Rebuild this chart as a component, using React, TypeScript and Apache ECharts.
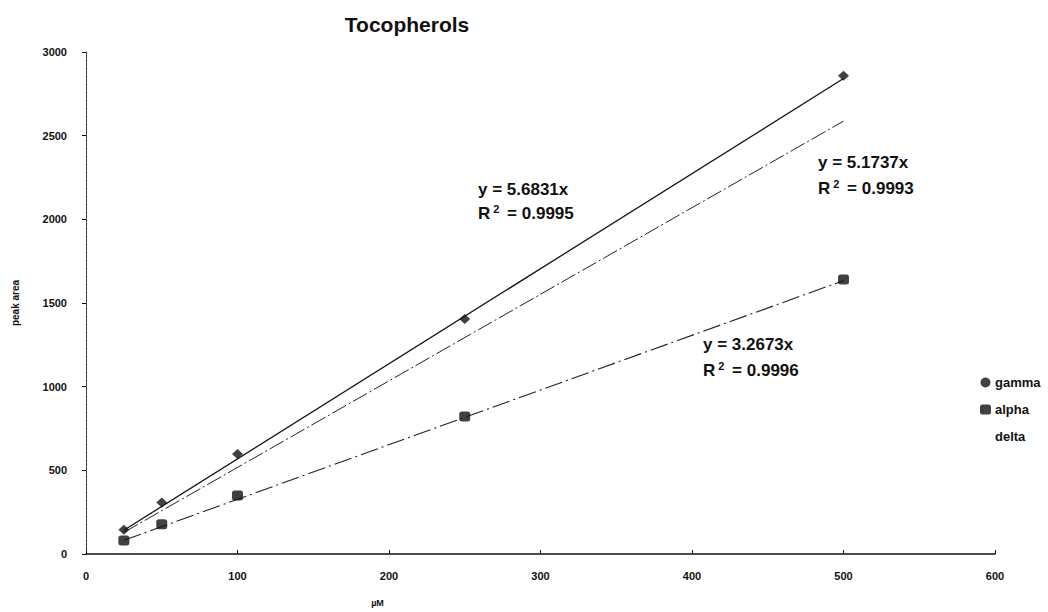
import React, { useEffect, useRef } from "react";
import * as echarts from "echarts";

const concentrations = [25, 50, 100, 250, 500];
const gammaValues = [145, 308, 598, 1405, 2858];
const alphaValues = [80, 178, 350, 822, 1640];
const fitRange = [25, 500];
const gammaSlope = 5.6831;
const deltaSlope = 5.1737;
const alphaSlope = 3.2673;
const xTicks = [0, 100, 200, 300, 400, 500, 600];
const yTicks = [0, 500, 1000, 1500, 2000, 2500, 3000];

const font = "Arial, 'Liberation Sans', Helvetica, sans-serif";

export default function App() {
  const ref = useRef<HTMLDivElement>(null);
  useEffect(() => {
    if (!ref.current) return;
    const chart = echarts.init(ref.current, null, { renderer: "svg" });
    const fit = (s: number) => fitRange.map((x) => [x, s * x]);
    const eqStyle = {
      fontFamily: font,
      fontWeight: "bold" as const,
      fontSize: 17,
      fill: "#111",
    };
    const rText = (left: number, top: number, value: string) => ({
      type: "text",
      left,
      top,
      style: {
        ...eqStyle,
        text: "R{sup|2} = " + value,
        rich: {
          sup: { fontFamily: font, fontWeight: "bold", fontSize: 11, fill: "#111", padding: [0, 3, 9, 3] },
        },
      },
    });
    chart.setOption({
      animation: false,
      backgroundColor: "#fff",
      title: {
        text: "Tocopherols",
        left: 402,
        top: 9,
        textAlign: "center",
        textStyle: { fontFamily: font, fontWeight: "bold", fontSize: 21, color: "#111" },
      },
      grid: { left: 86, right: 53, top: 52, bottom: 54, containLabel: false },
      xAxis: {
        type: "value",
        min: 0,
        max: 600,
        interval: 100,
        name: "µM",
        nameLocation: "middle",
        nameGap: 44,
        nameTextStyle: {
          fontFamily: font,
          fontWeight: "bold",
          fontSize: 9,
          color: "#111",
          padding: [0, 326, 0, 0],
        },
        axisLine: { lineStyle: { color: "#111", width: 1.5 } },
        axisTick: { inside: true, length: 4, lineStyle: { color: "#111" } },
        axisLabel: {
          margin: 16,
          fontFamily: font,
          fontWeight: "bold",
          fontSize: 11,
          color: "#111",
          customValues: xTicks,
          formatter: (v: number) => String(v),
        },
        splitLine: { show: false },
      },
      yAxis: {
        type: "value",
        min: 0,
        max: 3000,
        interval: 500,
        name: "peak area",
        nameLocation: "middle",
        nameGap: 66,
        nameRotate: 90,
        nameTextStyle: { fontFamily: font, fontWeight: "bold", fontSize: 10, color: "#111" },
        axisLine: { show: true, lineStyle: { color: "#333", width: 1, type: [3, 1] } },
        axisTick: { show: true, inside: false, length: 4, lineStyle: { color: "#111" } },
        axisLabel: {
          margin: 19,
          fontFamily: font,
          fontWeight: "bold",
          fontSize: 11,
          color: "#111",
          customValues: yTicks,
          formatter: (v: number) => String(v),
        },
        splitLine: { show: false },
      },
      legend: {
        orient: "vertical",
        left: 975,
        top: 371,
        itemWidth: 11,
        itemHeight: 10,
        itemGap: 14,
        textStyle: { fontFamily: font, fontWeight: "bold", fontSize: 13, color: "#111", padding: [0, 0, 0, -1] },
        data: [
          { name: "gamma", icon: "circle", itemStyle: { color: "#111" } },
          { name: "alpha", icon: "roundRect", itemStyle: { color: "#111" } },
          { name: "delta", icon: "rect", itemStyle: { color: "#fff", opacity: 0 } },
        ],
      },
      series: [
        {
          name: "gamma fit",
          type: "line",
          data: fit(gammaSlope),
          symbol: "none",
          lineStyle: { color: "#111", width: 1.3 },
          z: 1,
        },
        {
          name: "delta fit",
          type: "line",
          data: fit(deltaSlope),
          symbol: "none",
          lineStyle: { color: "#222", width: 1, type: [16, 3, 2, 3] },
          z: 1,
        },
        {
          name: "alpha fit",
          type: "line",
          data: fit(alphaSlope),
          symbol: "none",
          lineStyle: { color: "#222", width: 1.1, type: [18, 4, 2, 4] },
          z: 1,
        },
        {
          name: "gamma",
          type: "scatter",
          data: concentrations.map((x, i) => [x, gammaValues[i]]),
          symbol: "diamond",
          symbolSize: [11, 10],
          itemStyle: { color: "#111" },
          z: 3,
        },
        {
          name: "alpha",
          type: "scatter",
          data: concentrations.map((x, i) => [x, alphaValues[i]]),
          symbol: "roundRect",
          symbolSize: [11, 10],
          itemStyle: { color: "#111" },
          z: 3,
        },
        {
          name: "delta",
          type: "scatter",
          data: [],
          itemStyle: { color: "#fff" },
        },
      ],
      graphic: [
        { type: "text", left: 478, top: 181, style: { ...eqStyle, text: "y = 5.6831x" } },
        rText(478, 203, "0.9995"),
        { type: "text", left: 818, top: 154, style: { ...eqStyle, text: "y = 5.1737x" } },
        rText(818, 178, "0.9993"),
        { type: "text", left: 703, top: 336, style: { ...eqStyle, text: "y = 3.2673x" } },
        rText(703, 360, "0.9996"),
      ],
    });
    return () => chart.dispose();
  }, []);
  return <div ref={ref} style={{ width: 1048, height: 612, position: "absolute", left: 0, top: 0 }} />;
}
